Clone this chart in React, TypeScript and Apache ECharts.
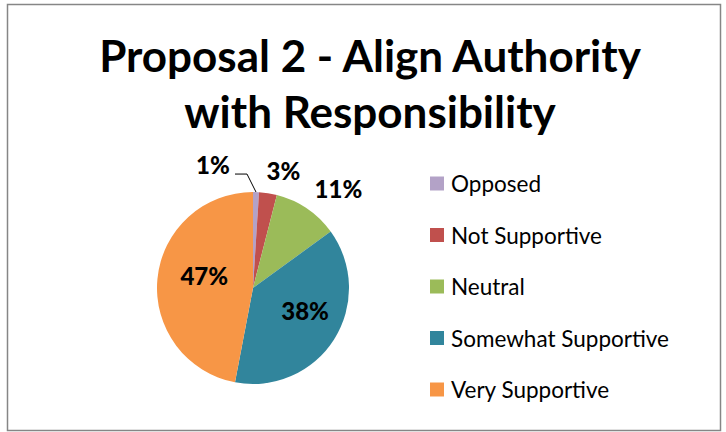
import React, { useEffect, useRef } from "react";
import * as echarts from "echarts";

const categories = ["Opposed", "Not Supportive", "Neutral", "Somewhat Supportive", "Very Supportive"];
const values = [1, 3, 11, 38, 47];
const colors = ["#B3A2C7", "#C0504D", "#9BBB59", "#31859C", "#F79646"];
const titleLines = ["Proposal 2 - Align Authority", "with Responsibility"];

export default function App() {
  const ref = useRef<HTMLDivElement>(null);
  useEffect(() => {
    if (!ref.current) return;
    const chart = echarts.init(ref.current, null, { renderer: "svg" });
    const insideSet = new Set([3, 4]);
    const nudges: Record<number, [number, number]> = {
      1: [-18, -13],
      2: [-13, -12],
      3: [9, -5],
      4: [2, -8],
    };
    chart.setOption({
      animation: false,
      backgroundColor: "#ffffff",
      title: {
        text: titleLines.join("\n"),
        left: 365,
        textAlign: "center",
        top: 22,
        textStyle: { fontFamily: "Lato", fontWeight: "bold", fontSize: 44, lineHeight: 56, color: "#000" },
      },
      graphic: [
        {
          type: "rect",
          shape: { x: 7.5, y: 4.5, width: 713, height: 426 },
          style: { fill: "none", stroke: "#868686", lineWidth: 1.5 },
          silent: true,
        },
      ],
      legend: {
        orient: "vertical",
        left: 430,
        top: 172,
        padding: 0,
        icon: "rect",
        itemWidth: 14,
        itemHeight: 14,
        itemGap: 28.5,
        data: categories,
        textStyle: { fontFamily: "Lato", fontSize: 22.5, lineHeight: 21, color: "#000", padding: [0, 0, 0, 2] },
      },
      series: [
        {
          type: "pie",
          center: [253, 288],
          radius: [0, 96],
          startAngle: 90,
          clockwise: true,
          avoidLabelOverlap: false,
          label: { fontFamily: "Lato", fontWeight: 900, fontSize: 24, color: "#000", formatter: "{c}%" },
          labelLine: { show: false, length: 10, length2: 10, lineStyle: { color: "#000", width: 1 } },
          labelLayout: (params: any) => {
            const i = params.dataIndex;
            if (i === 0 && params.labelLinePoints) {
              const p0 = params.labelLinePoints[0];
              return {
                hideOverlap: false,
                x: p0[0] - 43,
                y: p0[1] - 28,
                align: "center",
                verticalAlign: "middle",
                labelLinePoints: [p0, [p0[0] - 9, p0[1] - 18], [p0[0] - 21, p0[1] - 18]],
              };
            }
            const n = nudges[i];
            return n ? { hideOverlap: false, dx: n[0], dy: n[1] } : { hideOverlap: false };
          },
          data: categories.map((name, i) => ({
            name,
            value: values[i],
            itemStyle: { color: colors[i] },
            label: insideSet.has(i) ? { position: "inside" } : { position: "outside" },
            labelLine: { show: i === 0 },
          })),
        },
      ],
    });
    return () => chart.dispose();
  }, []);
  return <div ref={ref} style={{ position: "absolute", left: 0, top: 0, width: 726, height: 432 }} />;
}
